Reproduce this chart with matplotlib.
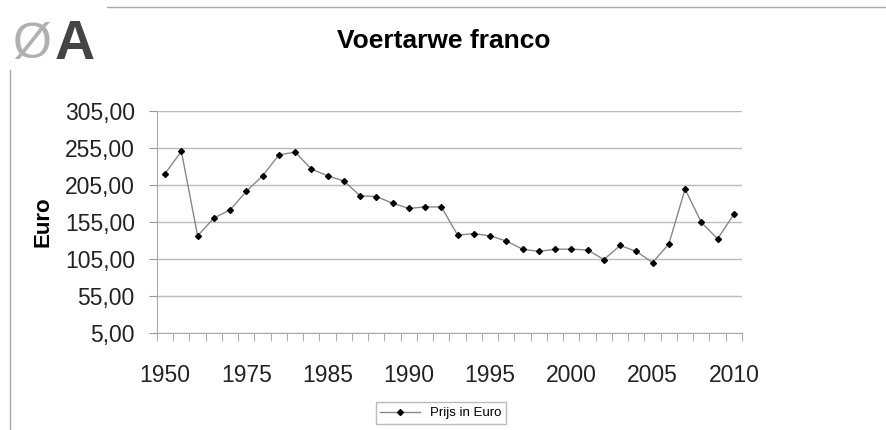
import matplotlib.pyplot as plt

plt.rcParams['font.family'] = ['Liberation Sans', 'DejaVu Sans']

# years on the category axis (only every 5th is labelled)
years = [1950, 1955, 1960, 1965, 1970, 1975, 1977, 1979, 1981, 1983] + list(range(1985, 2011))
prices = [220, 250, 136, 160, 171, 196, 217, 245, 249, 226,
          217, 210, 190, 189, 180, 173, 175, 175, 137, 139,
          136, 129, 118, 115, 118, 118, 117, 104, 123, 115,
          100, 125, 199, 154, 132, 165]
tick_labels = ['1950', '1975', '1985', '1990', '1995', '2000', '2005', '2010']
y_ticks = [5, 55, 105, 155, 205, 255, 305]

fig = plt.figure(figsize=(8.87, 4.30), dpi=100)
ax = fig.add_axes([0.177, 0.2256, 0.6595, 0.5174])

x = list(range(len(years)))
line, = ax.plot(x, prices, color='#888888', lw=1.0, marker='D', ms=3,
                mfc='black', mec='black', label='Prijs in Euro')

ax.set_xlim(-0.5, len(years) - 0.5)
ax.set_ylim(5, 305)
ax.set_yticks(y_ticks)
ax.set_yticklabels([f'{v:.2f}'.replace('.', ',') for v in y_ticks], fontsize=16.5, color='#222222')
ax.yaxis.grid(True, color='#bbbbbb', lw=1)
ax.set_axisbelow(True)

# minor ticks between categories, labels every 5th category
ax.set_xticks([i - 0.5 for i in range(len(years) + 1)], minor=True)
ax.set_xticks(x[::5])
ax.set_xticklabels(tick_labels, fontsize=16.5, color='#222222')
ax.tick_params(axis='x', which='major', length=0, pad=22)
ax.tick_params(axis='x', which='minor', length=6, color='#999999')
ax.tick_params(axis='y', length=6, color='#999999', pad=10)

for s in ['top', 'right']:
    ax.spines[s].set_visible(False)
for s in ['left', 'bottom']:
    ax.spines[s].set_color('#aaaaaa')

ax.set_ylabel('Euro', fontsize=16, fontweight='bold', labelpad=8)
fig.text(0.5, 1 - 41 / 430, 'Voertarwe franco', ha='center', va='center',
         fontsize=19, fontweight='bold')

fig.legend(handles=[line], loc='center', bbox_to_anchor=(441 / 887, 1 - 413 / 430),
           fontsize=9.5, frameon=True, fancybox=False, edgecolor='#aaaaaa',
           handlelength=3, borderpad=0.35)

# chart border (partly hidden behind the logo)
fig.add_artist(plt.Line2D([107 / 887, 1], [1 - 7 / 430] * 2, color='#aaaaaa', lw=1))
fig.add_artist(plt.Line2D([10 / 887] * 2, [0, 1 - 70 / 430], color='#aaaaaa', lw=1))

# logo
fig.text(12 / 887, 1 - 45 / 430, 'Ø', fontsize=36, color='#b0b0b0', va='center', ha='left')
fig.text(55 / 887, 1 - 45 / 430, 'A', fontsize=40, fontweight='bold', color='#444444',
         va='center', ha='left')

fig.savefig('out.png', dpi=100)
